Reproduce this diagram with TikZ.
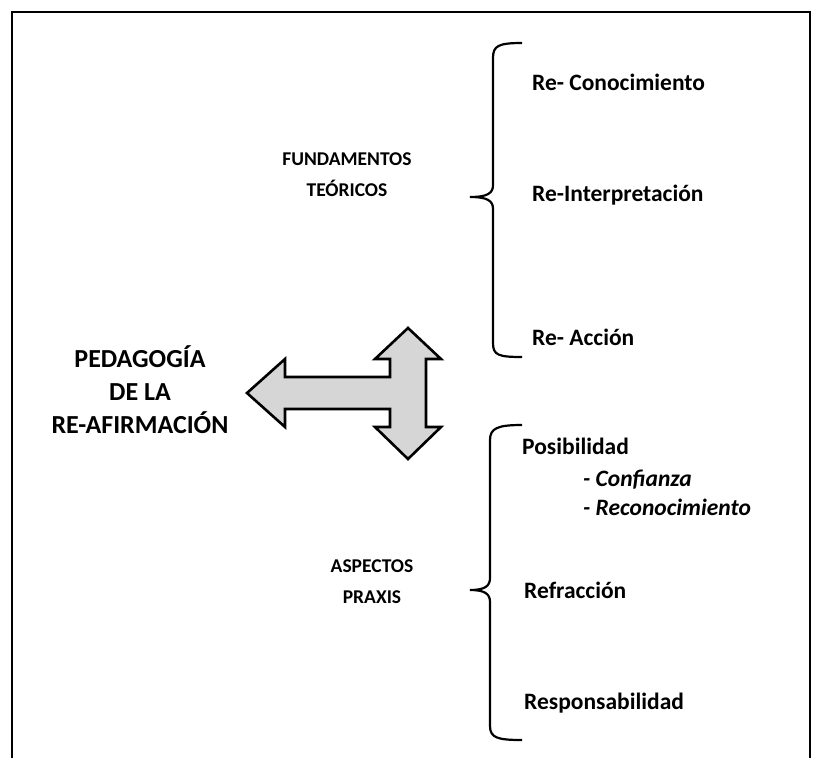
\documentclass[tikz,border=0pt]{standalone}
\usepackage{fontspec}
\setmainfont{Carlito}
\usetikzlibrary{positioning}

\begin{document}
\begin{tikzpicture}[x=1pt,y=-1pt,
    item/.style={anchor=west, inner sep=0pt, font=\fontsize{23.5}{28}\selectfont\bfseries},
    subitem/.style={anchor=west, inner sep=0pt, font=\fontsize{23.5}{28}\selectfont\bfseries\itshape},
    group/.style={align=center, inner sep=0pt, font=\fontsize{19.5}{31}\selectfont\bfseries},
    title/.style={align=center, inner sep=0pt, font=\fontsize{26}{33}\selectfont\bfseries},
    bracepath/.style={line width=2.2pt},
    bigarrow/.style={line width=2.6pt, line join=miter, fill=black!16}]
        \useasboundingbox (0,0) rectangle (822,758);

        % Frame (open at the bottom)
        \draw[line width=2pt] (12,758) -- (12,12) -- (810,12) -- (810,758);

        % Title
        \node[title] (title) at (140,390) {PEDAGOGÍA\\DE LA\\RE-AFIRMACIÓN};

        % Three-way arrow
        \draw[bigarrow] (247,393) -- (285,359) -- (285,377) -- (390,377) -- (390,359)
            -- (375,359) -- (408,328) -- (441,359) -- (426,359) -- (426,427)
            -- (441,427) -- (408,459) -- (375,427) -- (390,427) -- (390,409)
            -- (285,409) -- (285,427) -- cycle;

        % Upper group
        \node[group] (fund) at (347,175) {FUNDAMENTOS\\TEÓRICOS};
        \node[item] (conoc) at (532,82) {Re- Conocimiento};
        \node[item] (interp) at (532,195) {Re-Interpretación};
        \node[item] (accion) at (532,337) {Re- Acción};
        \draw[bracepath] (522,43) .. controls (498,43) and (493,46) .. (493,58) -- (493,185)
            .. controls (493,193) and (488,197) .. (470,197)
            .. controls (488,197) and (493,201) .. (493,209) -- (493,343)
            .. controls (493,355) and (498,357) .. (522,357);

        % Lower group
        \node[group] (praxis) at (372,582) {ASPECTOS\\PRAXIS};
        \node[item] (posib) at (522,446) {Posibilidad};
        \node[subitem] (confi) at (583,480) {- Confianza};
        \node[subitem] (recon) at (583,507) {- Reconocimiento};
        \node[item] (refrac) at (524,590) {Refracción};
        \node[item] (respon) at (524,703) {Responsabilidad};
        \draw[bracepath] (522,425) .. controls (498,425) and (490,428) .. (490,440) -- (490,578)
            .. controls (490,586) and (485,590) .. (470,590)
            .. controls (485,590) and (490,594) .. (490,602) -- (490,726)
            .. controls (490,738) and (498,740) .. (522,740);
\end{tikzpicture}
\end{document}
